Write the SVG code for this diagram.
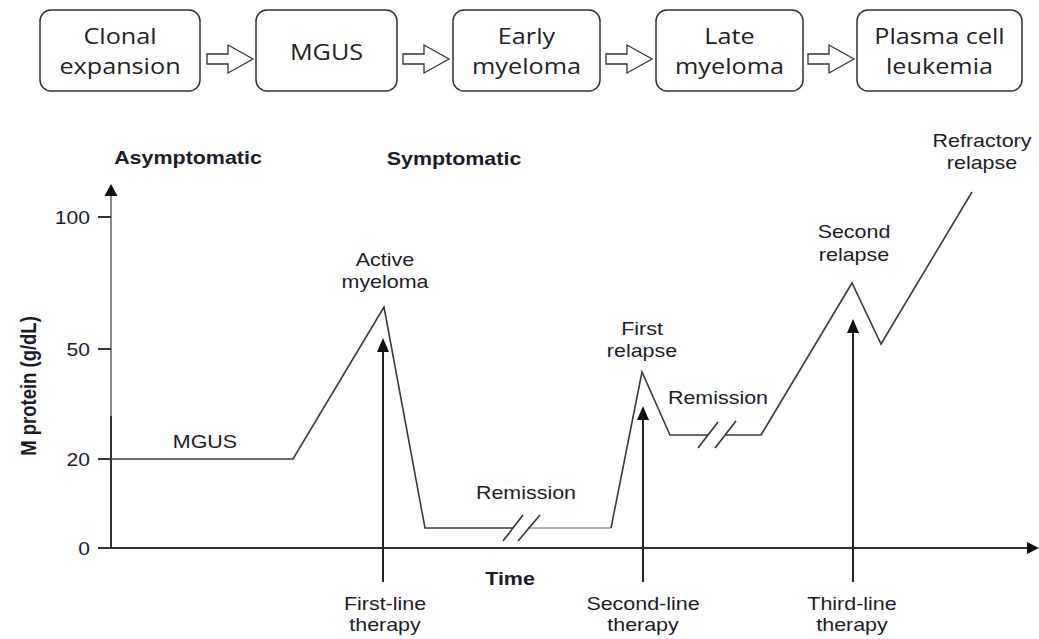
<svg xmlns="http://www.w3.org/2000/svg" width="1039" height="639" viewBox="0 0 1039 639">
<style>
  .box { fill: #ffffff; stroke: #333333; stroke-width: 1.5; }
  .btxt { font-family: "Open Sans", "Noto Sans", sans-serif; font-size: 21px; fill: #222222; text-anchor: middle; }
  .barrow { fill: #ffffff; stroke: #333333; stroke-width: 1.3; stroke-linejoin: miter; }
  .lbl { font-family: "Liberation Sans", Arial, sans-serif; font-size: 18.5px; fill: #1c1c28; text-anchor: middle; }
  .bold { font-weight: bold; }
  .tick { font-family: "Liberation Sans", Arial, sans-serif; font-size: 18.5px; fill: #1c1c28; text-anchor: end; }
  .axis { stroke: #333333; stroke-width: 2; fill: none; }
  .data { stroke: #3a3a3a; stroke-width: 1.6; fill: none; stroke-linejoin: miter; }
  .datag { stroke: #9a9a9a; stroke-width: 1.6; fill: none; }
  .brk { stroke: #333333; stroke-width: 1.6; fill: none; }
  .ther { stroke: #222222; stroke-width: 2; fill: none; }
</style>
<defs>
  <marker id="ah" viewBox="0 0 10 10" refX="10" refY="5" markerWidth="6" markerHeight="6" markerUnits="strokeWidth" orient="auto">
    <path d="M0,0 L10,5 L0,10 Z" fill="#111111"/>
  </marker>
  <path id="blockArrow" d="M0,-5 L21,-5 L21,-14 L46,0 L21,14 L21,5 L0,5 Z"/>
</defs>

<!-- Top progression row -->
<g id="node-clonal">
  <rect class="box" x="40" y="10" width="160" height="81" rx="11"/>
  <text class="btxt" transform="translate(120,0) scale(1.2,1)"><tspan x="0" y="44">Clonal</tspan><tspan x="0" y="74">expansion</tspan></text>
</g>
<g id="node-mgus">
  <rect class="box" x="256" y="10" width="141" height="81" rx="11"/>
  <text class="btxt" transform="translate(326.5,0) scale(1.2,1)"><tspan x="0" y="60">MGUS</tspan></text>
</g>
<g id="node-early">
  <rect class="box" x="453" y="10" width="147" height="81" rx="11"/>
  <text class="btxt" transform="translate(526.5,0) scale(1.2,1)"><tspan x="0" y="44">Early</tspan><tspan x="0" y="74">myeloma</tspan></text>
</g>
<g id="node-late">
  <rect class="box" x="656" y="10" width="147" height="81" rx="11"/>
  <text class="btxt" transform="translate(729.5,0) scale(1.2,1)"><tspan x="0" y="44">Late</tspan><tspan x="0" y="74">myeloma</tspan></text>
</g>
<g id="node-pcl">
  <rect class="box" x="857" y="10" width="165" height="81" rx="11"/>
  <text class="btxt" transform="translate(939.5,0) scale(1.2,1)"><tspan x="0" y="44">Plasma cell</tspan><tspan x="0" y="74">leukemia</tspan></text>
</g>

<g id="connectors">
  <use href="#blockArrow" class="barrow" transform="translate(207,59)"/>
  <use href="#blockArrow" class="barrow" transform="translate(403,59)"/>
  <use href="#blockArrow" class="barrow" transform="translate(606,59)"/>
  <use href="#blockArrow" class="barrow" transform="translate(808,59)"/>
</g>

<!-- Chart -->
<g id="axes">
  <line x1="111" y1="417" x2="111" y2="192" stroke="#8a8a8a" stroke-width="2"/>
  <path d="M104.5,196 L111,184 L117.5,196 Z" fill="#111111"/>
  <line class="axis" x1="111" y1="548" x2="111" y2="416"/>
  <line class="axis" x1="98" y1="548" x2="1030" y2="548"/>
  <path d="M1027,542 L1039,548 L1027,554 Z" fill="#111111"/>
  <line class="axis" x1="98" y1="217" x2="111" y2="217"/>
  <line class="axis" x1="98" y1="349" x2="111" y2="349"/>
  <line class="axis" x1="98" y1="459" x2="111" y2="459"/>
  <text class="tick" transform="translate(90,224) scale(1.14,1)">100</text>
  <text class="tick" transform="translate(90,356) scale(1.14,1)">50</text>
  <text class="tick" transform="translate(90,466) scale(1.14,1)">20</text>
  <text class="tick" transform="translate(90,555) scale(1.14,1)">0</text>
  <text class="lbl bold" transform="translate(36,386) rotate(-90) scale(1,1.16)">M protein (g/dL)</text>
  <text class="lbl bold" transform="translate(510,585) scale(1.16,1)">Time</text>
</g>

<g id="curve">
  <polyline class="data" points="111,459 293,459 384,307 425,528 513,528"/>
  <line class="datag" x1="528" y1="528" x2="611" y2="528"/>
  <polyline class="data" points="611,528 642,372 670,435 708,435"/>
  <polyline class="data" points="725,435 761,435 852,283 881,344 972,192"/>
  <line class="brk" x1="503" y1="541" x2="523" y2="515"/>
  <line class="brk" x1="518" y1="541" x2="540" y2="515"/>
  <line class="brk" x1="698" y1="448" x2="718" y2="422"/>
  <line class="brk" x1="715" y1="448" x2="736" y2="421"/>
</g>

<g id="phase-labels">
  <text class="lbl bold" transform="translate(188,164) scale(1.16,1)">Asymptomatic</text>
  <text class="lbl bold" transform="translate(454,165) scale(1.16,1)">Symptomatic</text>
</g>

<g id="node-mgus-label"><text class="lbl" transform="translate(205,448) scale(1.16,1)">MGUS</text></g>
<g id="node-active"><text class="lbl" transform="translate(385,0) scale(1.16,1)"><tspan x="0" y="266">Active</tspan><tspan x="0" y="288">myeloma</tspan></text></g>
<g id="node-remission1"><text class="lbl" transform="translate(526,499) scale(1.16,1)">Remission</text></g>
<g id="node-first-relapse"><text class="lbl" transform="translate(642,0) scale(1.16,1)"><tspan x="0" y="335">First</tspan><tspan x="0" y="357">relapse</tspan></text></g>
<g id="node-remission2"><text class="lbl" transform="translate(718,404) scale(1.16,1)">Remission</text></g>
<g id="node-second-relapse"><text class="lbl" transform="translate(854,0) scale(1.16,1)"><tspan x="0" y="238">Second</tspan><tspan x="0" y="261">relapse</tspan></text></g>
<g id="node-refractory"><text class="lbl" transform="translate(982,0) scale(1.16,1)"><tspan x="0" y="147">Refractory</tspan><tspan x="0" y="169">relapse</tspan></text></g>

<g id="therapies">
  <line class="ther" x1="383" y1="582" x2="383" y2="350"/>
  <path d="M377,352 L383,338 L389,352 Z" fill="#111111"/>
  <line class="ther" x1="643" y1="582" x2="643" y2="418"/>
  <path d="M637,420 L643,406 L649,420 Z" fill="#111111"/>
  <line class="ther" x1="853" y1="582" x2="853" y2="331"/>
  <path d="M847,333 L853,319 L859,333 Z" fill="#111111"/>
</g>
<g id="node-first-line"><text class="lbl" transform="translate(385,0) scale(1.16,1)"><tspan x="0" y="610">First-line</tspan><tspan x="0" y="631">therapy</tspan></text></g>
<g id="node-second-line"><text class="lbl" transform="translate(643,0) scale(1.16,1)"><tspan x="0" y="610">Second-line</tspan><tspan x="0" y="631">therapy</tspan></text></g>
<g id="node-third-line"><text class="lbl" transform="translate(852,0) scale(1.16,1)"><tspan x="0" y="610">Third-line</tspan><tspan x="0" y="631">therapy</tspan></text></g>
</svg>
